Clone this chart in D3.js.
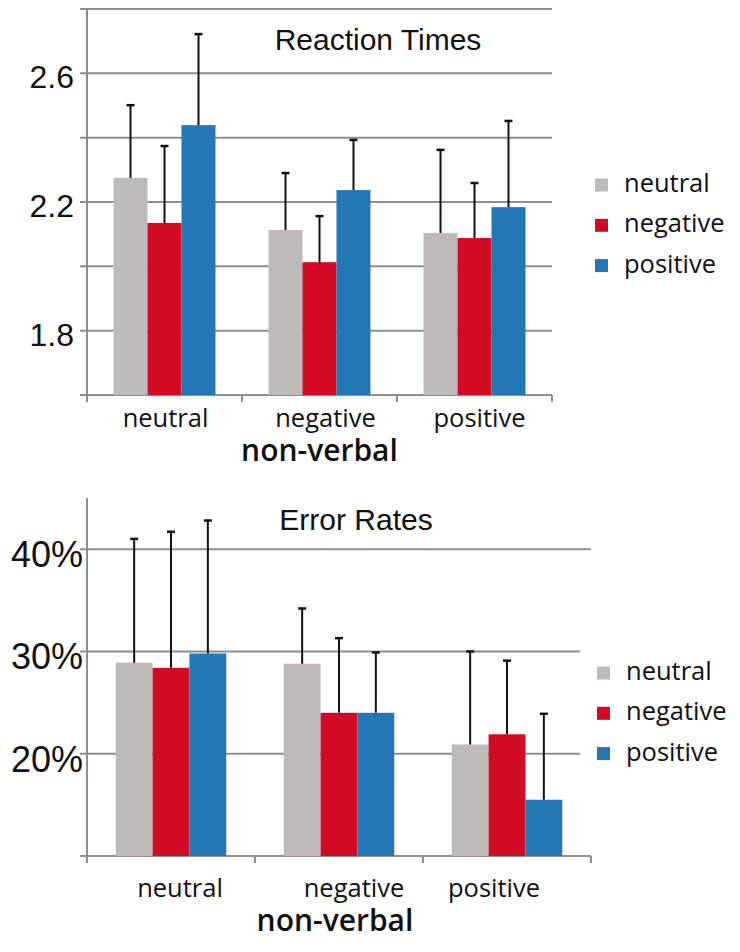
<!DOCTYPE html>
<html>
<head>
<meta charset="utf-8">
<script src="https://cdn.jsdelivr.net/npm/d3@7"></script>
<style>
  html, body { margin: 0; padding: 0; background: #ffffff; }
  svg { display: block; }
</style>
</head>
<body>
<svg id="chart" width="740" height="952"></svg>
<script>
// ---------------- data ----------------
const categories = ["neutral", "negative", "positive"];
const seriesNames = ["neutral", "negative", "positive"];
const seriesColors = ["#bebab9", "#d30a23", "#2277b4"];

// Reaction times (means and upper error)
const rtNeutral = [2.275, 2.113, 2.104];
const rtNegative = [2.135, 2.013, 2.088];
const rtPositive = [2.439, 2.237, 2.184];
const rtErrNeutral = [0.226, 0.177, 0.258];
const rtErrNegative = [0.239, 0.143, 0.171];
const rtErrPositive = [0.283, 0.156, 0.268];
const rtGridValues = [1.8, 2.0, 2.2, 2.4, 2.6, 2.8];
const rtTickLabels = [1.8, 2.2, 2.6];

// Error rates (%)
const erNeutral = [28.9, 28.8, 20.9];
const erNegative = [28.4, 24.0, 21.9];
const erPositive = [29.8, 24.0, 15.5];
const erErrNeutral = [12.1, 5.4, 9.1];
const erErrNegative = [13.3, 7.3, 7.2];
const erErrPositive = [13.0, 5.9, 8.4];
const erGridValues = [20, 30, 40];
const erTickLabels = [20, 30, 40];

const xTitle = "non-verbal";

// ---------------- drawing ----------------
const svg = d3.select("#chart");
const GRID = "#8e8e8e";

function buildRows(means, errs) {
  return categories.map((c, i) => ({
    cat: c,
    vals: seriesNames.map((s, j) => ({ s, j, v: means[j][i], e: errs[j][i] }))
  }));
}

function drawChart(cfg) {
  const g = svg.append("g");
  const x0 = d3.scaleBand().domain(categories).range([cfg.left, cfg.right]).padding(0);
  const x1 = d3.scaleBand().domain(seriesNames).range([0, x0.bandwidth()])
    .paddingInner(0).paddingOuter(0.78);
  const y = d3.scaleLinear().domain(cfg.domain).range([cfg.bottom, cfg.top]);

  // gridlines with left tick marks
  g.selectAll("line.grid").data(cfg.grid).join("line")
    .attr("x1", cfg.left - 7).attr("x2", (d, i) => cfg.right - cfg.gridTrim[i])
    .attr("y1", d => y(d)).attr("y2", d => y(d))
    .attr("stroke", GRID).attr("stroke-width", 2);

  // tick labels
  g.selectAll("text.tick").data(cfg.ticks).join("text")
    .attr("x", cfg.labelX).attr("y", d => y(d) + cfg.labelDy)
    .attr("text-anchor", "end")
    .attr("font-family", "'Liberation Sans', Arial, sans-serif")
    .attr("font-size", cfg.tickSize).attr("fill", "#111")
    .text(cfg.fmt);

  // y axis
  g.append("line").attr("x1", cfg.left).attr("x2", cfg.left)
    .attr("y1", y(cfg.domain[1])).attr("y2", cfg.bottom + 7)
    .attr("stroke", GRID).attr("stroke-width", 2);
  // bottom axis line
  g.append("line").attr("x1", cfg.left - 7).attr("x2", cfg.right)
    .attr("y1", cfg.bottom).attr("y2", cfg.bottom)
    .attr("stroke", GRID).attr("stroke-width", 2);
  // x axis ticks at band boundaries
  const bounds = categories.map(c => x0(c)).concat([cfg.right]);
  g.selectAll("line.xt").data(bounds).join("line")
    .attr("x1", d => d).attr("x2", d => d)
    .attr("y1", cfg.bottom).attr("y2", cfg.bottom + 7)
    .attr("stroke", GRID).attr("stroke-width", 2);

  // bars
  const rows = buildRows(cfg.means, cfg.errs);
  const grp = g.selectAll("g.grp").data(rows).join("g")
    .attr("transform", d => `translate(${x0(d.cat)},0)`);
  grp.selectAll("rect").data(d => d.vals).join("rect")
    .attr("x", d => x1(d.s)).attr("width", x1.bandwidth())
    .attr("y", d => y(d.v)).attr("height", d => cfg.bottom - y(d.v))
    .attr("fill", d => seriesColors[d.j]);
  // error bars (upper only)
  grp.selectAll("line.eb").data(d => d.vals).join("line")
    .attr("x1", d => x1(d.s) + x1.bandwidth() / 2).attr("x2", d => x1(d.s) + x1.bandwidth() / 2)
    .attr("y1", d => y(d.v)).attr("y2", d => y(d.v + d.e))
    .attr("stroke", "#111").attr("stroke-width", 2);
  grp.selectAll("line.cap").data(d => d.vals).join("line")
    .attr("x1", d => x1(d.s) + x1.bandwidth() / 2 - 4).attr("x2", d => x1(d.s) + x1.bandwidth() / 2 + 4)
    .attr("y1", d => y(d.v + d.e)).attr("y2", d => y(d.v + d.e))
    .attr("stroke", "#111").attr("stroke-width", 2.5);

  // title
  g.append("text").attr("x", cfg.titleX).attr("y", cfg.titleY)
    .attr("text-anchor", "middle")
    .attr("font-family", "'Liberation Sans', Arial, sans-serif")
    .attr("font-size", 30).attr("fill", "#111").text(cfg.title);

  // category labels
  g.selectAll("text.cat").data(categories).join("text")
    .attr("x", (d, i) => x0(d) + x0.bandwidth() / 2 + cfg.catDx[i])
    .attr("y", cfg.catY)
    .attr("text-anchor", "middle")
    .attr("font-family", "'Open Sans', 'Noto Sans', sans-serif")
    .attr("font-size", 25.5).attr("fill", "#111").text(d => d);

  g.append("text").attr("x", x0(categories[1]) + x0.bandwidth() / 2 + cfg.xtDx)
    .attr("y", cfg.xTitleY)
    .attr("text-anchor", "middle")
    .attr("font-family", "'Open Sans', 'Noto Sans', sans-serif")
    .attr("font-weight", 600)
    .attr("font-size", 30).attr("fill", "#111").text(xTitle);

  // legend
  const lg = g.selectAll("g.leg").data(seriesNames).join("g")
    .attr("transform", (d, i) => `translate(${cfg.legX},${cfg.legY + i * 40.3})`);
  lg.append("rect").attr("x", 0).attr("y", -6.5).attr("width", 13).attr("height", 13)
    .attr("fill", (d, i) => seriesColors[i]);
  lg.append("text").attr("x", 29).attr("y", 7)
    .attr("font-family", "'Open Sans', 'Noto Sans', sans-serif")
    .attr("font-size", 25.5).attr("fill", "#111").text(d => d);
}

drawChart({
  left: 87, right: 552, top: 9, bottom: 395, domain: [1.6, 2.8],
  grid: rtGridValues, gridTrim: [0, 0, 0, 0, 0, 0],
  ticks: rtTickLabels, fmt: d => d.toFixed(1),
  labelX: 74, labelDy: 15, tickSize: 32,
  means: [rtNeutral, rtNegative, rtPositive],
  errs: [rtErrNeutral, rtErrNegative, rtErrPositive],
  title: "Reaction Times", titleX: 378, titleY: 50,
  catY: 427, catDx: [1, 6, 5], xTitleY: 461, xtDx: 0,
  legX: 595, legY: 185
});

drawChart({
  left: 87, right: 591, top: 498, bottom: 856, domain: [10, 45],
  grid: erGridValues, gridTrim: [11, 11, 0],
  ticks: erTickLabels, fmt: d => d + "%",
  labelX: 83, labelDy: 18, tickSize: 36,
  means: [erNeutral, erNegative, erPositive],
  errs: [erErrNeutral, erErrNegative, erErrPositive],
  title: "Error Rates", titleX: 356, titleY: 530,
  catY: 897, catDx: [9, 15, -13], xTitleY: 931, xtDx: -4,
  legX: 597, legY: 673
});
</script>
</body>
</html>
